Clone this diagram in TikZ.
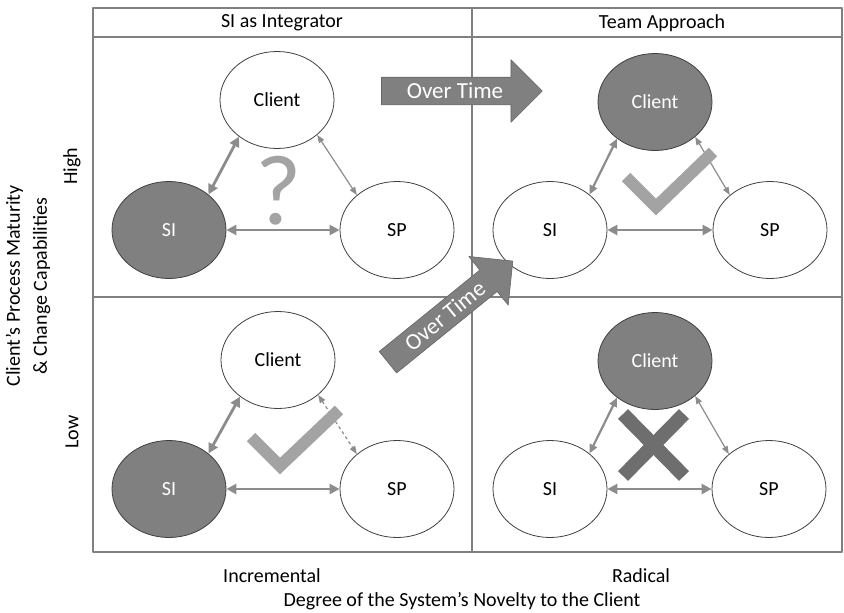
\documentclass[tikz,border=0pt]{standalone}
\usepackage{fontspec}
\setmainfont{Carlito}
\usetikzlibrary{shapes.geometric,shapes.arrows,arrows.meta}
\definecolor{boxgray}{RGB}{128,128,128}
\definecolor{ellgray}{RGB}{128,128,128}
\definecolor{linkgray}{RGB}{140,140,140}
\definecolor{markgray}{RGB}{163,163,163}
\definecolor{crossgray}{RGB}{110,110,110}
\definecolor{edgegray}{RGB}{64,64,64}
\tikzset{
	ell/.style={ellipse,draw=edgegray,line width=0.8pt,minimum width=114pt,minimum height=97pt,inner sep=0pt,fill=white},
	ellD/.style={ell,fill=ellgray,text=white},
	link/.style={<->,draw=linkgray,line width=2.8pt,>={Triangle[length=10pt,width=10pt]}},
	linkM/.style={<->,draw=linkgray,line width=2.2pt,>={Triangle[length=9pt,width=8pt]}},
	linkT/.style={<->,draw=linkgray,line width=1.2pt,>={Triangle[length=8pt,width=6pt]}},
	overtime/.style={single arrow,fill=boxgray,draw=black!60,line width=0.6pt,text=white,font=\fontsize{23}{23}\selectfont,single arrow head extend=17.5pt,single arrow tip angle=90,inner xsep=25pt,inner ysep=6pt,text height=15pt,text depth=0pt},
	checkmark/.style={draw=markgray,line width=12pt,line join=miter,line cap=butt},
	crossmark/.style={draw=crossgray,line width=14pt,line cap=butt},
	frameline/.style={draw=boxgray,line width=2.2pt}
}
\begin{document}
\begin{tikzpicture}[x=1pt,y=-1pt,font=\fontsize{20}{24}\selectfont,line join=round]
	\useasboundingbox (0,0) rectangle (844,613);
	%khung
	\draw[frameline] (93,8) rectangle (842,552);
	\draw[frameline] (93,37)--(842,37);
	\draw[frameline] (472,8)--(472,552);
	\draw[frameline] (93,297)--(842,297);
	\node (hA) at (282,23) {SI as Integrator};
	\node (hB) at (662,23) {Team Approach};
	\node[rotate=90,align=center,font=\fontsize{20}{27}\selectfont] (yl) at (28,286) {Client’s Process Maturity\\\& Change Capabilities};
	\node[rotate=90] (high) at (72,166) {High};
	\node[rotate=90] (low) at (72,432) {Low};
	\node (incr) at (272,576) {Incremental};
	\node (radi) at (641,576) {Radical};
	\node (xl) at (462,601) {Degree of the System’s Novelty to the Client};
	%SI as Integrator, high
	\node[ell] (cA) at (277,100) {Client};
	\node[ellD] (siA) at (169,230) {SI};
	\node[ell] (spA) at (397,230) {SP};
	\draw[link] (siA) -- (spA);
	\draw[link] (cA.224) -- (siA.42);
	\draw[linkT] (cA.319) -- (spA.139);
	\node[text=markgray,font=\fontsize{100}{100}\selectfont] (qA) at (279,191) {?};
	%Team Approach, high
	\node[ellD] (cB) at (655,102) {Client};
	\node[ell] (siB) at (550,230) {SI};
	\node[ell] (spB) at (770,230) {SP};
	\draw[link] (siB) -- (spB);
	\draw[linkM] (cB.224) -- (siB.42);
	\draw[linkT] (cB.319) -- (spB.139);
	\draw[checkmark] (626,177) -- (656,207) -- (713,152);
	%SI as Integrator, low
	\node[ell] (cC) at (278,360) {Client};
	\node[ellD] (siC) at (169,489) {SI};
	\node[ell] (spC) at (397,489) {SP};
	\draw[link] (siC) -- (spC);
	\draw[link] (cC.224) -- (siC.42);
	\draw[linkT,dashed] (cC.319) -- (spC.139);
	\draw[checkmark] (251,437) -- (280,466) -- (339,410);
	%Team Approach, low
	\node[ellD] (cD) at (655,361) {Client};
	\node[ell] (siD) at (550,489) {SI};
	\node[ell] (spD) at (769,489) {SP};
	\draw[link] (siD) -- (spD);
	\draw[linkM] (cD.224) -- (siD.42);
	\draw[linkT] (cD.319) -- (spD.139);
	\draw[crossmark] (623,414) -- (684,476) (684,414) -- (623,476);
	%Over Time
	\node[overtime] (otA) at (455,91) {Over Time};
	\node[overtime,rotate=39] (otB) at (445,316) {Over Time};
\end{tikzpicture}
\end{document}
